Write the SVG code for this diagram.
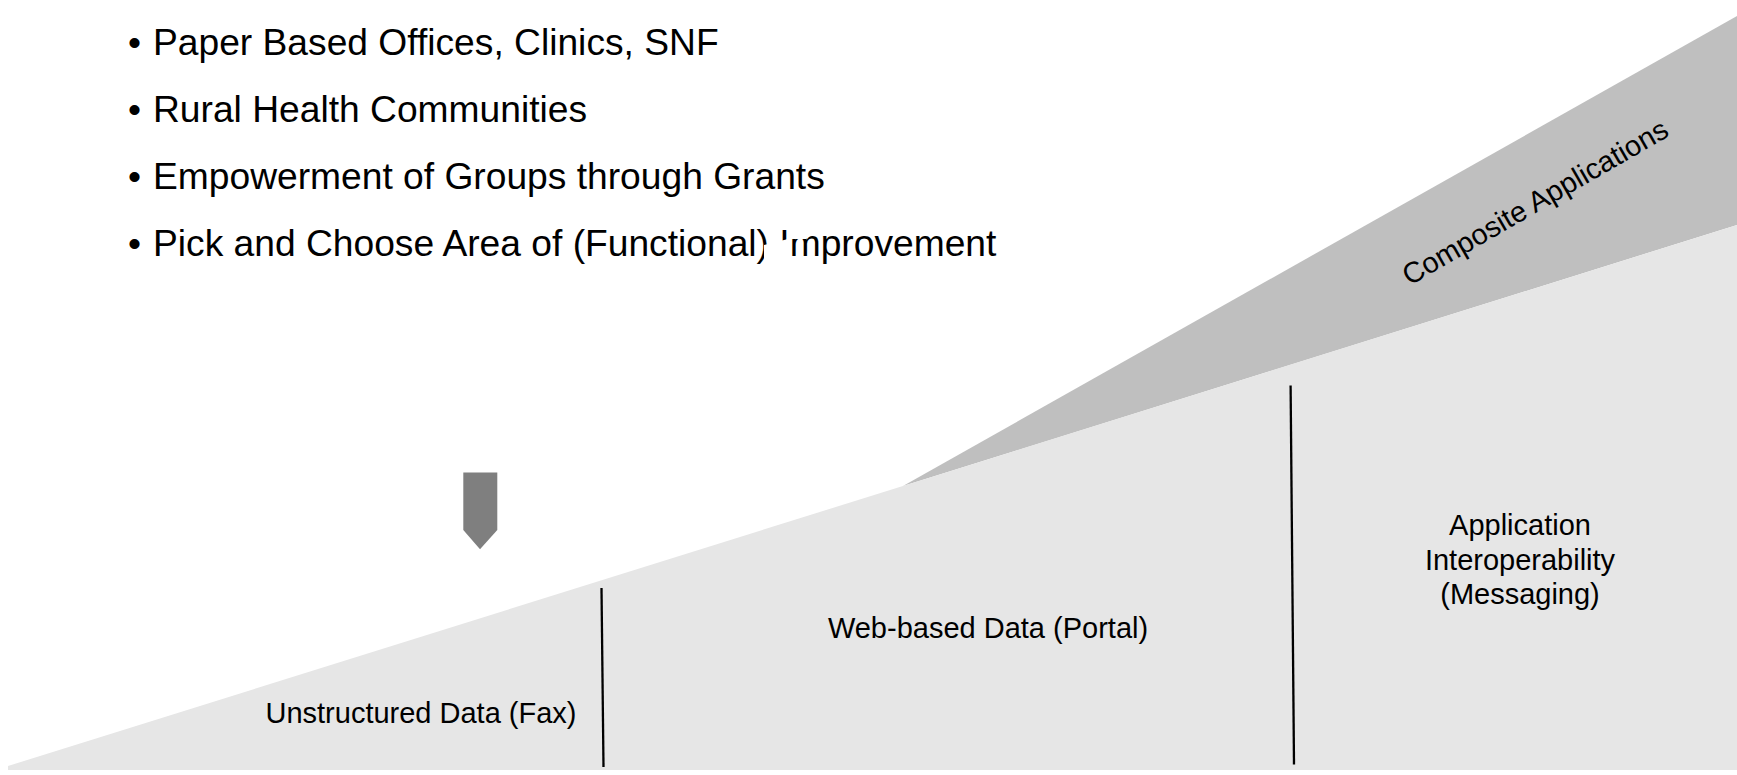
<svg xmlns="http://www.w3.org/2000/svg" width="1737" height="775" viewBox="0 0 1737 775">
  <style>
    .bullet { font-family: "Liberation Sans", Arial, sans-serif; font-size: 37.2px; fill: #000000; }
    .label { font-family: "Liberation Sans", Arial, sans-serif; font-size: 29px; fill: #000000; }
    .divider { stroke: #000000; stroke-width: 2.3; fill: none; }
  </style>
  <rect x="0" y="0" width="1737" height="775" fill="#ffffff"/>

  <g id="composite-band">
    <polygon points="903,486 1737,16 1737,225" fill="#bfbfbf"/>
    <text class="label" font-size="28" text-anchor="middle" transform="translate(1535,202) rotate(-30)" y="10">Composite Applications</text>
  </g>

  <g id="base-wedge">
    <polygon points="8,766 1737,225 1737,770 8,770" fill="#e6e6e6"/>
  </g>

  <g id="bullets">
    <text class="bullet" x="128" y="55">•</text>
    <text class="bullet" x="153" y="55">Paper Based Offices, Clinics, SNF</text>
    <text class="bullet" x="128" y="122">•</text>
    <text class="bullet" x="153" y="122">Rural Health Communities</text>
    <text class="bullet" x="128" y="189">•</text>
    <text class="bullet" x="153" y="189">Empowerment of Groups through Grants</text>
    <text class="bullet" x="128" y="256">•</text>
    <text class="bullet" x="153" y="256">Pick and Choose Area of (Functional) Improvement</text>
    <polygon points="764,245 788,239 788,232 806,232 806,239 791,239 791,262 764,259" fill="#ffffff"/>
  </g>

  <g id="down-arrow">
    <polygon points="463.3,472.5 497.3,472.5 497.3,530 480,549.3 463.3,530" fill="#7f7f7f"/>
  </g>

  <g id="unstructured">
    <text class="label" x="421" y="723" text-anchor="middle">Unstructured Data (Fax)</text>
  </g>
  <g id="web-based">
    <text class="label" x="988" y="638" text-anchor="middle">Web-based Data (Portal)</text>
  </g>
  <g id="app-interop">
    <text class="label" x="1520" y="535" text-anchor="middle">Application</text>
    <text class="label" x="1520" y="570" text-anchor="middle">Interoperability</text>
    <text class="label" x="1520" y="604" text-anchor="middle">(Messaging)</text>
  </g>

  <g id="connectors">
    <line class="divider" x1="601.5" y1="588" x2="603.5" y2="767"/>
    <line class="divider" x1="1290.6" y1="385.5" x2="1294" y2="764.5"/>
  </g>
</svg>
